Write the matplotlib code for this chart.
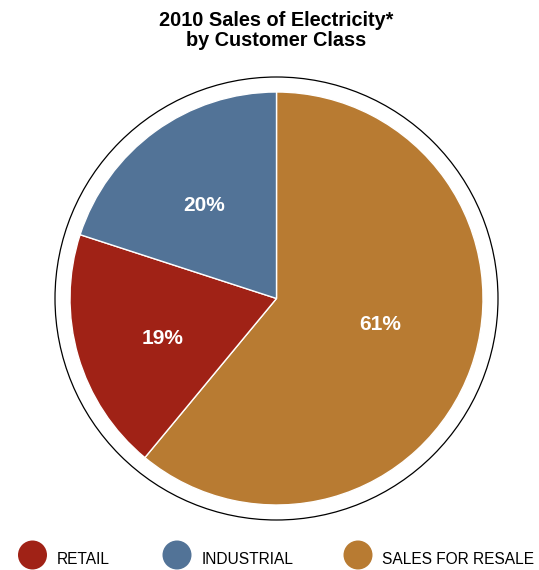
import numpy as np
import matplotlib
matplotlib.use('Agg')
import matplotlib.pyplot as plt
from matplotlib.patches import Circle

plt.rcParams['font.family'] = ['Liberation Sans', 'DejaVu Sans']

# share of 2010 electricity sales, clockwise from 12 o'clock
classes = ['SALES FOR RESALE', 'RETAIL', 'INDUSTRIAL']
shares = [61, 19, 20]
colors = ['#B87B32', '#A02216', '#527397']

# legend order along the bottom
legend_classes = ['RETAIL', 'INDUSTRIAL', 'SALES FOR RESALE']
legend_colors = ['#A02216', '#527397', '#B87B32']
legend_x = [32.5, 177, 358]

# where the percent labels sit: (fraction of radius, angle in degrees)
label_pos = [(0.517, -14.0), (0.586, 199.2), (0.571, 128.1)]

W, H = 539, 570
fig = plt.figure(figsize=(W / 100, H / 100), dpi=100)
ax = fig.add_axes([0, 0, 1, 1])

cx, cy, r = 276.5, H - 298.5, 206.5

wedges, texts, autotexts = ax.pie(
    shares, colors=colors, startangle=90, counterclock=False,
    center=(cx, cy), radius=r, frame=True,
    autopct=lambda p: f'{p:.0f}%', pctdistance=0.57,
    wedgeprops=dict(edgecolor='white', linewidth=1.0),
    textprops=dict(color='white', fontsize=15, fontweight='bold'))
for t, (f, a) in zip(autotexts, label_pos):
    t.set_position((cx + f * r * np.cos(np.radians(a)),
                    cy + f * r * np.sin(np.radians(a))))
ax.set_xlim(0, W)
ax.set_ylim(0, H)
ax.axis('off')

# thin outline ring around the pie
ax.add_patch(Circle((cx, cy), 221.5, facecolor='none', edgecolor='black',
                    linewidth=0.9, zorder=0))

# title
ax.text(cx, H - 26.5, '2010 Sales of Electricity*', ha='center',
        va='baseline', fontsize=14.3, fontweight='bold')
ax.text(cx, H - 46, 'by Customer Class', ha='center', va='baseline',
        fontsize=14.3, fontweight='bold')

# legend
for x, name, c in zip(legend_x, legend_classes, legend_colors):
    ax.add_patch(Circle((x, H - 555), 14.5, facecolor=c, edgecolor='none'))
    ax.text(x + 24.5, H - 564.3, name, ha='left', va='baseline', fontsize=11.2)

fig.savefig('out.png', dpi=100, facecolor='white')
